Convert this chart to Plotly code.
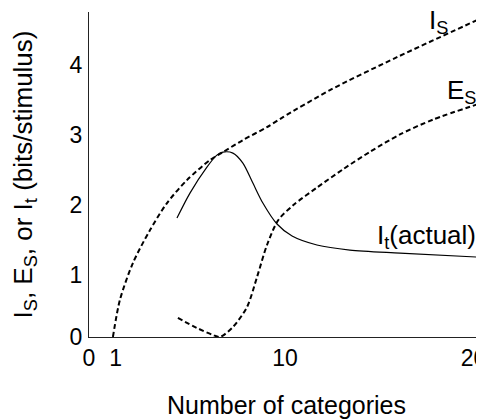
import plotly.graph_objects as go

# Data
is_x = [0.86, 1.23, 1.92, 2.83, 3.73, 4.79, 6.01, 6.70, 7.76, 9.04, 9.89, 12.38, 15.94, 20.19]
is_y = [0.114, 0.643, 1.171, 1.643, 2.029, 2.357, 2.643, 2.757, 2.929, 3.114, 3.257, 3.643, 4.114, 4.643]

es_x = [4.31, 5.32, 6.17, 6.54, 7.23, 7.98, 8.51, 9.04, 9.64, 10.44, 11.68, 13.09, 14.51, 16.10, 17.87, 20.35]
es_y = [0.386, 0.243, 0.143, 0.114, 0.257, 0.543, 0.971, 1.429, 1.786, 2.000, 2.248, 2.514, 2.762, 3.010, 3.224, 3.452]

it_x = [4.26, 4.95, 5.85, 6.38, 6.70, 7.23, 7.76, 8.29, 8.82, 9.57, 10.37, 11.69, 13.44, 16.10, 20.19]
it_y = [1.814, 2.171, 2.543, 2.714, 2.757, 2.743, 2.600, 2.314, 2.029, 1.729, 1.557, 1.429, 1.357, 1.314, 1.257]

x_range = [-0.41, 20.56]
y_range = [0.114, 4.76]
x_tickvals = [-0.41, 1, 10, 20]
x_ticktext = ["0", "1", "10", "20"]
y_tickvals = [0.114, 1, 2, 3, 4]
y_ticktext = ["0", "1", "2", "3", "4"]

labels = [
    ("I<sub>S</sub>", 18.15, 4.63),
    ("E<sub>S</sub>", 19.35, 3.63),
    ("I<sub>t</sub>(actual)", 17.5, 1.55),
]

FONT = "Liberation Sans, Arial, sans-serif"

fig = go.Figure()
fig.add_trace(go.Scatter(x=is_x, y=is_y, mode="lines", line=dict(color="black", width=2, dash="5px,3px", shape="spline", smoothing=0.8), showlegend=False))
fig.add_trace(go.Scatter(x=es_x, y=es_y, mode="lines", line=dict(color="black", width=2, dash="5px,3px", shape="spline", smoothing=0.8), showlegend=False))
fig.add_trace(go.Scatter(x=it_x, y=it_y, mode="lines", line=dict(color="black", width=1.2, shape="spline", smoothing=0.8), showlegend=False))

for text, x, y in labels:
    fig.add_annotation(x=x, y=y, xref="x", yref="y", text=text, showarrow=False,
                       font=dict(family=FONT, size=26, color="black"))

# page body has an 8px margin, so the figure is sized 8px smaller
fig.update_layout(
    width=476, height=411,
    margin=dict(l=81, r=0, t=4, b=82, autoexpand=False),
    paper_bgcolor="white", plot_bgcolor="white",
    font=dict(family=FONT, size=23, color="black"),
)
fig.update_xaxes(range=x_range, tickvals=x_tickvals, ticktext=x_ticktext,
                 showgrid=False, zeroline=False, showline=True, linecolor="#222", linewidth=1.3,
                 ticks="", ticklabelstandoff=0, automargin=False, ticklabeloverflow="allow",
                 title=dict(text="Number of categories", standoff=28, font=dict(size=25)))
fig.update_yaxes(range=y_range, tickvals=y_tickvals, ticktext=y_ticktext,
                 showgrid=False, zeroline=False, showline=True, linecolor="#222", linewidth=1.3,
                 ticks="", ticklabelstandoff=1, automargin=False, ticklabeloverflow="allow",
                 title=dict(text="I<sub>S</sub>, E<sub>S</sub>, or I<sub>t</sub> (bits/stimulus)", standoff=30, font=dict(size=26)))

fig.write_html("out.html")
